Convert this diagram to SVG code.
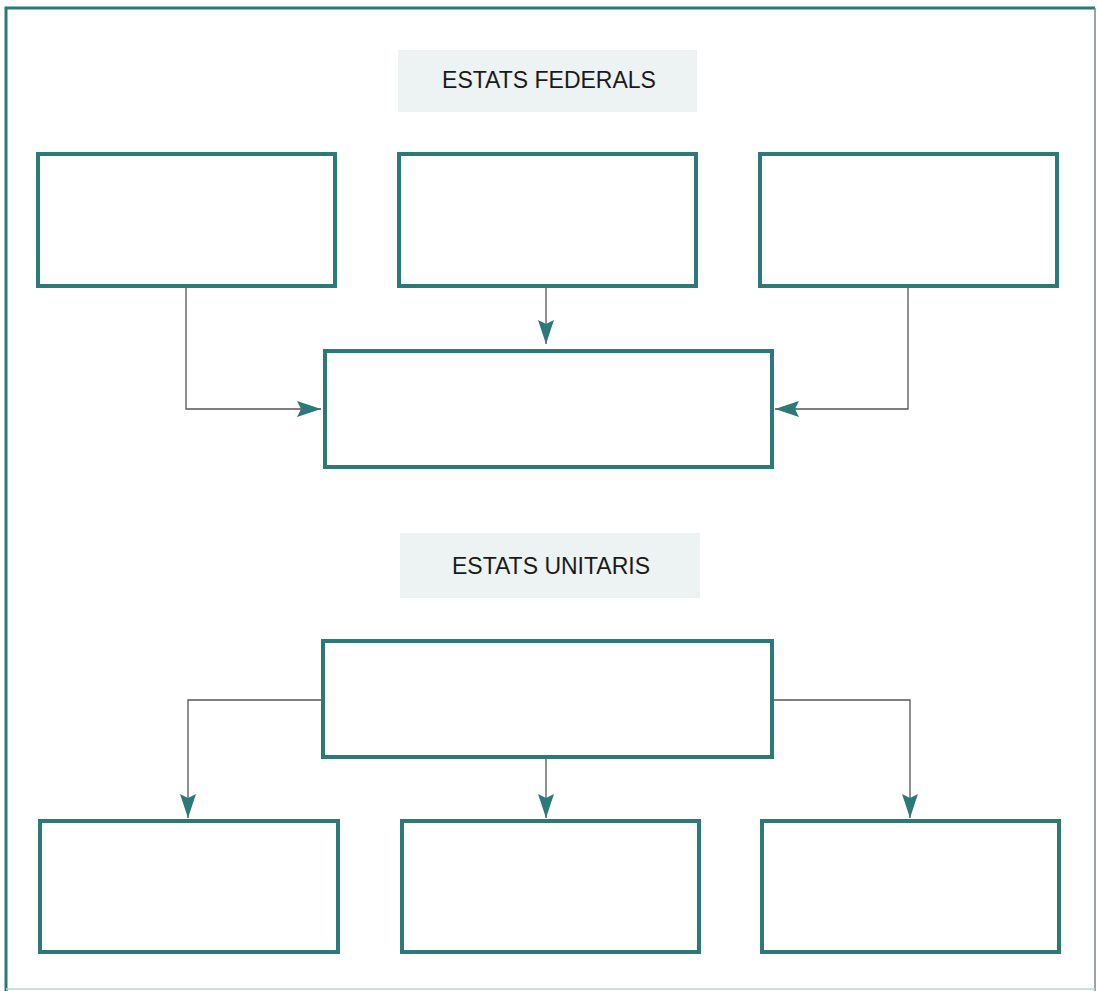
<svg xmlns="http://www.w3.org/2000/svg" width="1097" height="991" viewBox="0 0 1097 991">
<defs>
<style>
.box{fill:#fff;stroke:#2b7a77;stroke-width:4}
.band{fill:#edf3f3}
.lbl{font-family:"Liberation Sans",Arial,sans-serif;font-size:23px;fill:#1a1a1a;text-anchor:middle}
.con{fill:none;stroke:#555;stroke-width:1.3}
</style>
<marker id="ah" viewBox="0 0 24 16" refX="24" refY="8" markerWidth="24" markerHeight="16" markerUnits="userSpaceOnUse" orient="auto">
<path d="M0,0 L24,8 L0,16 L4,8 Z" fill="#2b7a77"/>
</marker>
</defs>
<rect width="1097" height="991" fill="#fff"/>
<g id="frame">
<path d="M6,991 L6,8 L1095,8" fill="none" stroke="#2b7a77" stroke-width="3"/>
<path d="M1095,8 L1095,991" fill="none" stroke="#6f8a89" stroke-width="1.5"/>
<path d="M6,989 L1095,989" fill="none" stroke="#bcd3d2" stroke-width="1.5"/>
</g>
<g id="title-federals">
<rect class="band" x="398" y="50" width="299" height="62"/>
<text class="lbl" x="549" y="88">ESTATS FEDERALS</text>
</g>
<g id="fed-box1"><rect class="box" x="38" y="154" width="297" height="132"/></g>
<g id="fed-box2"><rect class="box" x="399" y="154" width="297" height="132"/></g>
<g id="fed-box3"><rect class="box" x="760" y="154" width="297" height="132"/></g>
<g id="fed-center"><rect class="box" x="325" y="351" width="447" height="116"/></g>
<g id="title-unitaris">
<rect class="band" x="400" y="533" width="300" height="65"/>
<text class="lbl" x="551" y="574">ESTATS UNITARIS</text>
</g>
<g id="uni-center"><rect class="box" x="323" y="641" width="449" height="116"/></g>
<g id="uni-box1"><rect class="box" x="40" y="821" width="298" height="131"/></g>
<g id="uni-box2"><rect class="box" x="402" y="821" width="297" height="131"/></g>
<g id="uni-box3"><rect class="box" x="762" y="821" width="297" height="131"/></g>
<g id="connectors">
<path class="con" d="M186,288 L186,409 L321,409" marker-end="url(#ah)"/>
<path class="con" d="M546,288 L546,344" marker-end="url(#ah)"/>
<path class="con" d="M908,288 L908,409 L775,409" marker-end="url(#ah)"/>
<path class="con" d="M321,700 L188,700 L188,818" marker-end="url(#ah)"/>
<path class="con" d="M546,759 L546,818" marker-end="url(#ah)"/>
<path class="con" d="M774,700 L910,700 L910,818" marker-end="url(#ah)"/>
</g>
</svg>
